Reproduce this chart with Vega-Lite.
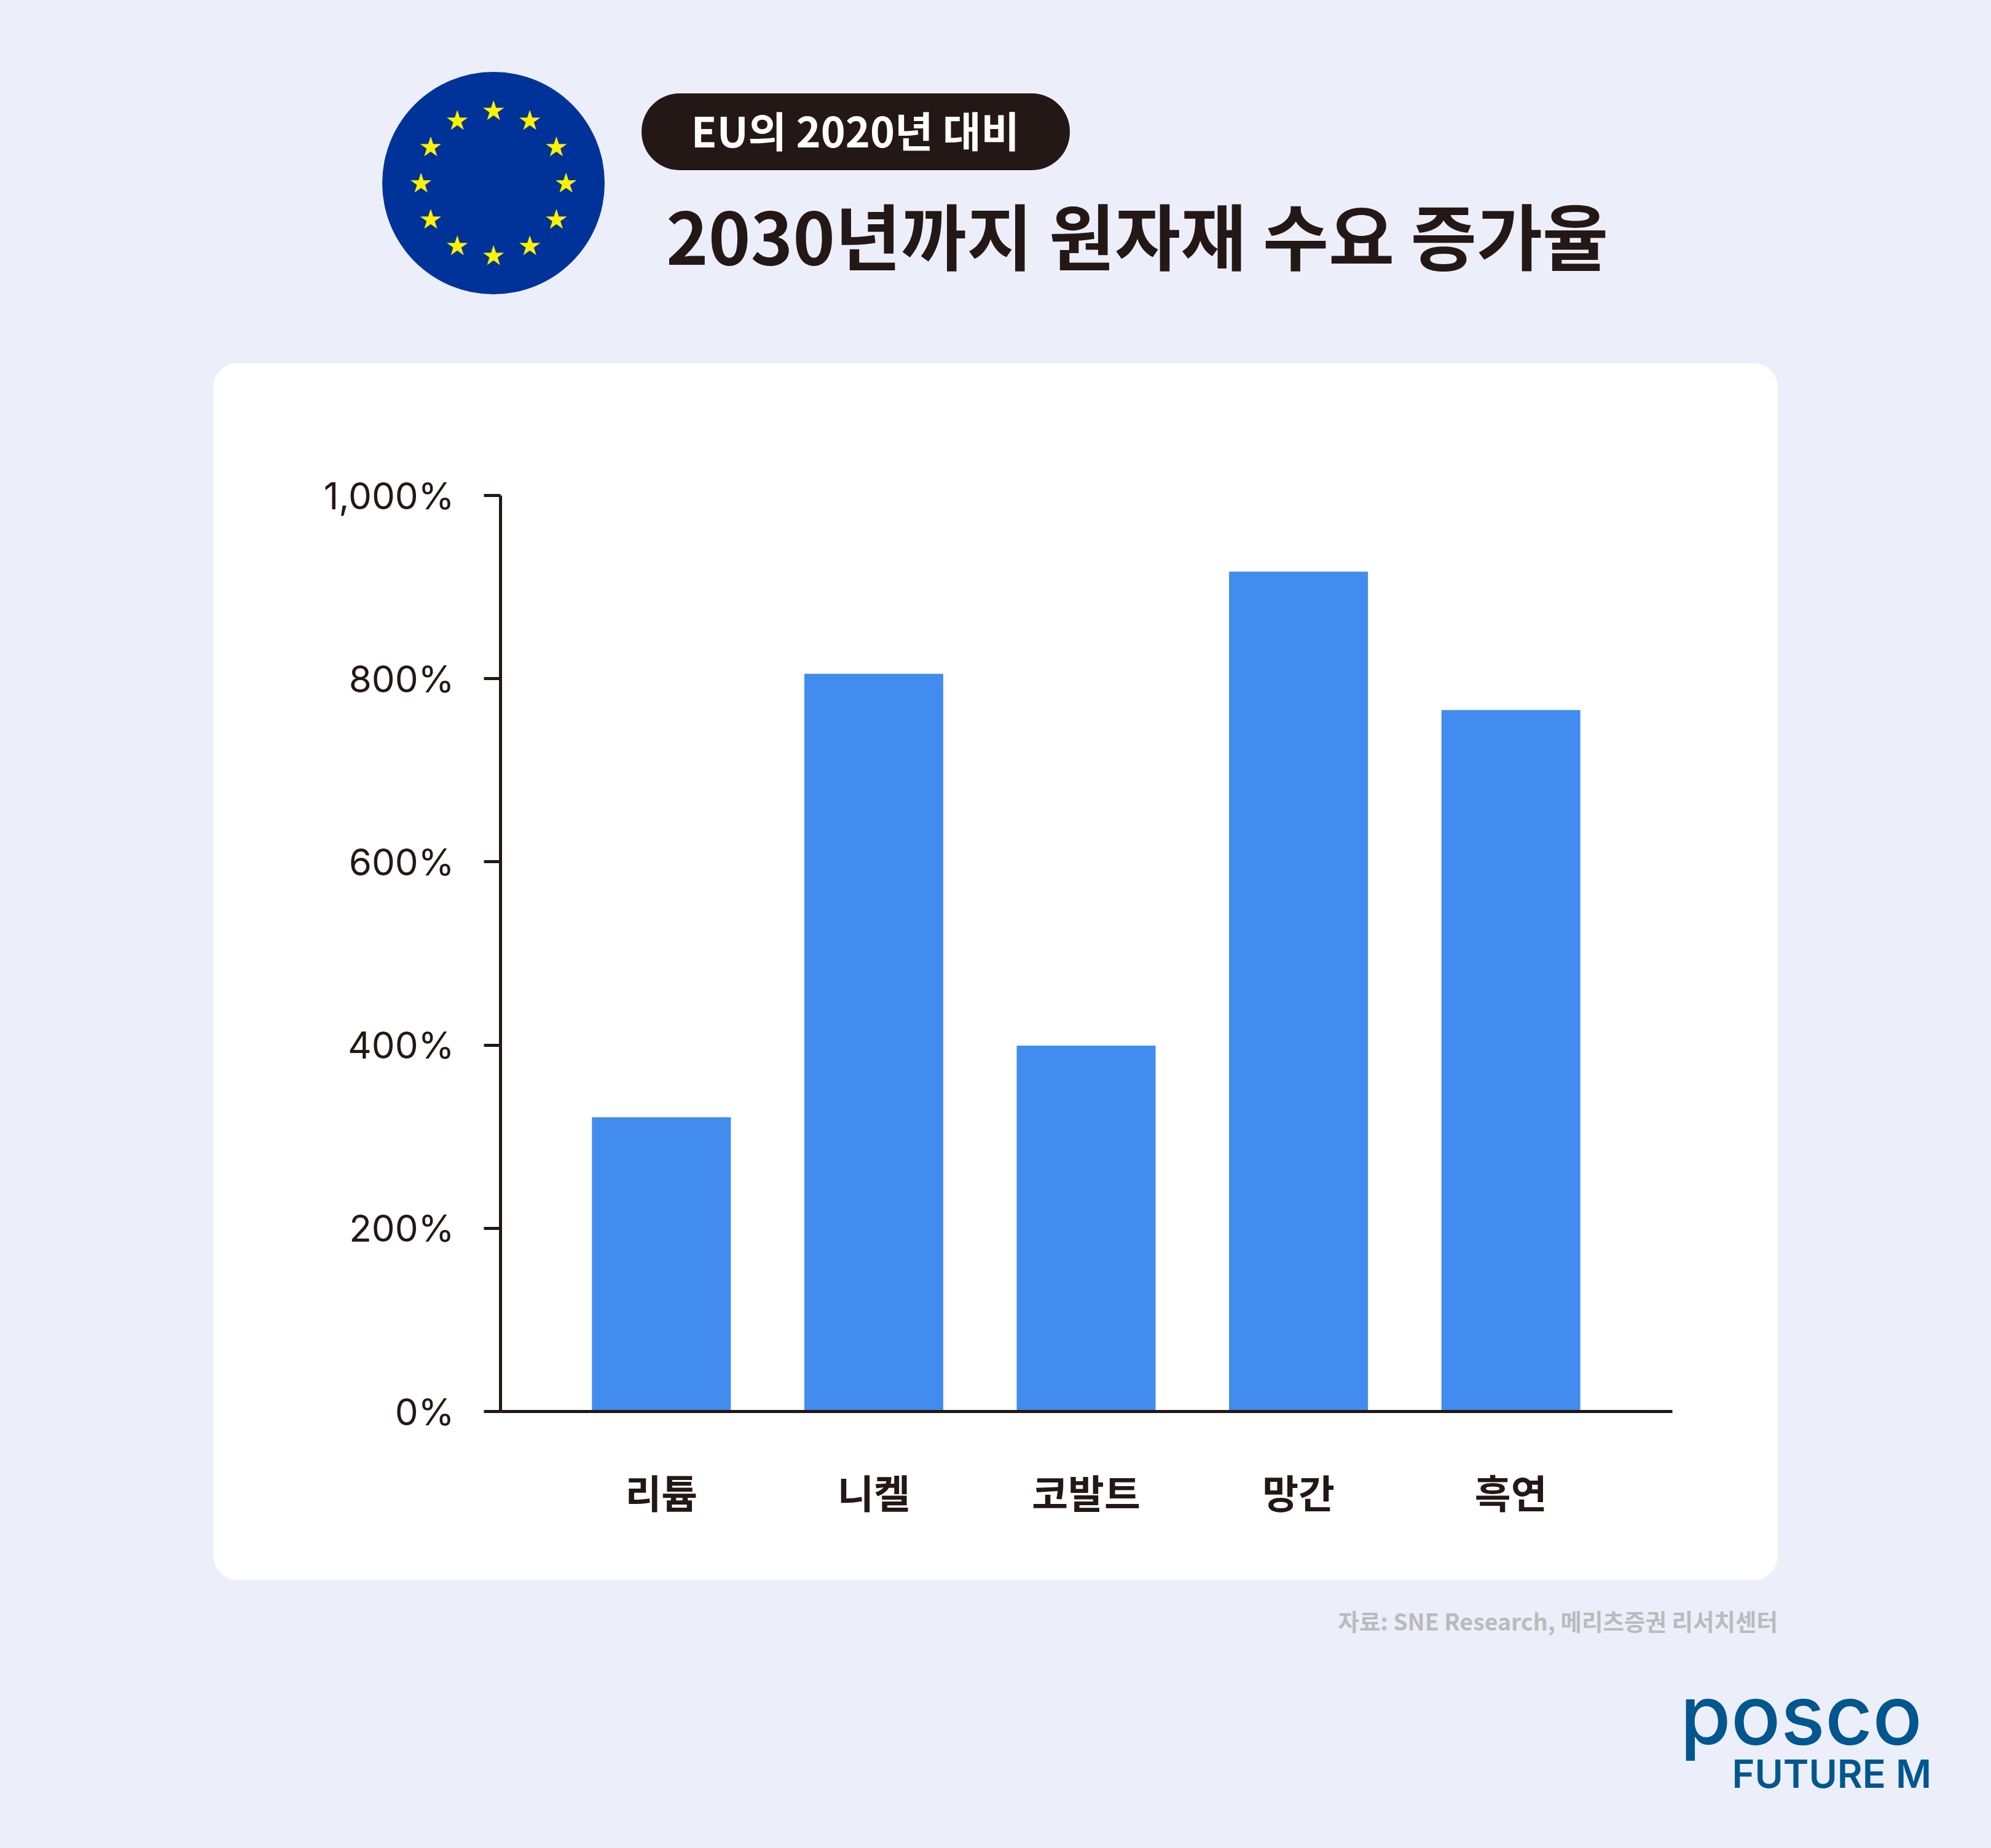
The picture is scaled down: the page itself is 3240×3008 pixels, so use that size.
{
  "$schema": "https://vega.github.io/schema/vega-lite/v6.json",
  "width": 1907,
  "height": 1491,
  "autosize": {"type": "none"},
  "padding": {"left": 814, "top": 806, "right": 519, "bottom": 711},
  "background": "#ECEFFA",
  "view": {"stroke": null},
  "config": {"font": "Noto Sans CJK KR"},
  "layer": [
    {
      "data": {"values": [{"part": "card"}]},
      "mark": {"type": "rect", "fill": "#FFFFFF", "cornerRadius": 40},
      "encoding": {
        "x": {"value": -467},
        "x2": {"value": 2079},
        "y": {"value": -215},
        "y2": {"value": 1766}
      }
    },
    {
      "data": {"values": [{"part": "flag"}]},
      "mark": {"type": "point", "shape": "circle", "filled": true, "opacity": 1, "color": "#003399", "size": 131044},
      "encoding": {"x": {"value": -11}, "y": {"value": -508}}
    },
    {
      "data": {"values": [
        {"star": 0}, {"star": 1}, {"star": 2}, {"star": 3}, {"star": 4}, {"star": 5},
        {"star": 6}, {"star": 7}, {"star": 8}, {"star": 9}, {"star": 10}, {"star": 11}
      ]},
      "mark": {"type": "text", "text": "★", "font": "DejaVu Sans", "fontSize": 44, "color": "#FFF200", "baseline": "middle", "align": "center"},
      "encoding": {
        "x": {"value": -11},
        "y": {"value": -506},
        "theta": {"field": "star", "type": "quantitative", "scale": {"domain": [0, 12], "range": [0, 6.2832]}},
        "radius": {"value": 118}
      }
    },
    {
      "data": {"values": [{"part": "pill"}]},
      "mark": {"type": "rect", "fill": "#231815", "cornerRadius": 62},
      "encoding": {
        "x": {"value": 230},
        "x2": {"value": 927},
        "y": {"value": -654},
        "y2": {"value": -529}
      }
    },
    {
      "data": {"values": [{"label": "EU의 2020년 대비"}]},
      "mark": {"type": "text", "fontSize": 68, "fontWeight": 700, "color": "#FFFFFF", "align": "center", "baseline": "alphabetic"},
      "encoding": {
        "x": {"value": 578},
        "y": {"value": -566},
        "text": {"field": "label"}
      }
    },
    {
      "data": {"values": [{"label": "2030년까지 원자재 수요 증가율"}]},
      "mark": {"type": "text", "fontSize": 116.5, "fontWeight": 700, "color": "#231815", "align": "left", "baseline": "alphabetic"},
      "encoding": {
        "x": {"value": 270},
        "y": {"value": -375},
        "text": {"field": "label"}
      }
    },
    {
      "data": {"values": [
        {"소재": "리튬", "증가율": 321},
        {"소재": "니켈", "증가율": 805},
        {"소재": "코발트", "증가율": 399},
        {"소재": "망간", "증가율": 916.5},
        {"소재": "흑연", "증가율": 765.5}
      ]},
      "mark": {"type": "bar", "color": "#418CEE"},
      "encoding": {
        "x": {
          "field": "소재",
          "type": "nominal",
          "sort": null,
          "scale": {"paddingInner": 0.346, "paddingOuter": 0.432},
          "axis": {
            "title": null,
            "labelAngle": 0,
            "labelFontSize": 64,
            "labelFontWeight": 700,
            "labelColor": "#231815",
            "labelPadding": 106,
            "labelLimit": 0,
            "ticks": false,
            "domainColor": "#231815",
            "domainWidth": 5,
            "zindex": 1
          }
        },
        "y": {
          "field": "증가율",
          "type": "quantitative",
          "scale": {"domain": [0, 1000], "nice": false},
          "axis": {
            "title": null,
            "values": [0, 200, 400, 600, 800, 1000],
            "labelExpr": "format(datum.value, ',') + '%'",
            "labelFont": "Inter",
            "labelFontSize": 60,
            "labelFontWeight": 400,
            "labelColor": "#231815",
            "labelPadding": 48,
            "labelLimit": 0,
            "labelOffset": 4,
            "tickSize": 27,
            "tickWidth": 5,
            "tickColor": "#231815",
            "domainColor": "#231815",
            "domainWidth": 5,
            "grid": false,
            "zindex": 1
          }
        }
      }
    },
    {
      "data": {"values": [{"label": "자료: SNE Research, 메리츠증권 리서치센터"}]},
      "mark": {"type": "text", "fontSize": 37.5, "fontWeight": 700, "color": "#BBBBBB", "align": "right", "baseline": "alphabetic"},
      "encoding": {
        "x": {"value": 2079},
        "y": {"value": 1848},
        "text": {"field": "label"}
      }
    },
    {
      "data": {"values": [{"label": "posco"}]},
      "mark": {"type": "text", "font": "Inter", "fontSize": 134, "fontWeight": 500, "color": "#00568E", "align": "left", "baseline": "alphabetic"},
      "encoding": {
        "x": {"value": 1920},
        "y": {"value": 2033},
        "text": {"field": "label"}
      }
    },
    {
      "data": {"values": [{"label": "FUTURE M"}]},
      "mark": {"type": "text", "font": "Inter", "fontSize": 63, "fontWeight": 600, "color": "#00568E", "align": "right", "baseline": "alphabetic"},
      "encoding": {
        "x": {"value": 2329},
        "y": {"value": 2104},
        "text": {"field": "label"}
      }
    }
  ]
}
